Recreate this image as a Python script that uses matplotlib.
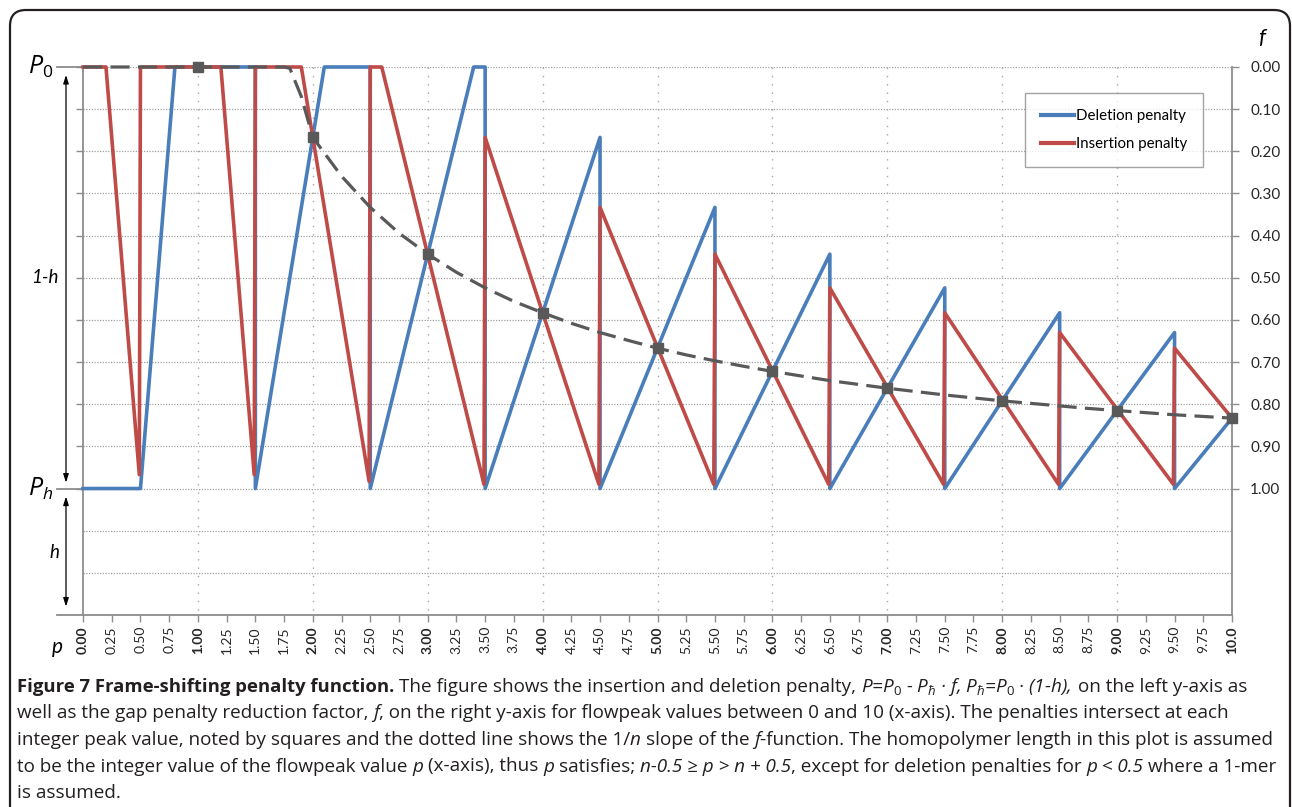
import matplotlib
matplotlib.use('Agg')
import matplotlib.pyplot as plt
from matplotlib.patches import FancyBboxPatch
from matplotlib.transforms import IdentityTransform

# lignes brisees (p en abscisse, f en ordonnee)
deletion_p = [0, 0.5, 0.8, 1.5, 1.5, 2.1, 2.5, 2.5, 3.4, 3.5, 3.5, 4.5, 4.5, 5.5, 5.5,
              6.5, 6.5, 7.5, 7.5, 8.5, 8.5, 9.5, 9.5, 10]
deletion_f = [1, 1, 0, 0, 1, 0, 0, 1, 0, 0, 1, 0.167, 1, 0.333, 1,
              0.444, 1, 0.524, 1, 0.583, 1, 0.630, 1, 0.833]

insertion_p = [0, 0.2, 0.49, 0.5, 1.2, 1.49, 1.5, 1.9, 2.49, 2.5, 2.6, 3.49, 3.5, 4.49, 4.5,
               5.49, 5.5, 6.49, 6.5, 7.49, 7.5, 8.49, 8.5, 9.49, 9.5, 10]
insertion_f = [0, 0, 0.967, 0, 0, 0.967, 0, 0, 0.983, 0, 0, 0.99, 0.167, 0.99, 0.333,
               0.99, 0.444, 0.99, 0.524, 0.99, 0.583, 0.99, 0.630, 0.99, 0.667, 0.833]

# courbe f en pointilles
curve_p = [0, 0.25, 0.5, 0.75, 1, 1.25, 1.5, 1.75, 1.8, 1.9, 2, 2.25, 2.5, 2.75, 3, 3.25, 3.5, 3.75,
           4, 4.25, 4.5, 4.75, 5, 5.25, 5.5, 5.75, 6, 6.25, 6.5, 6.75, 7, 7.25, 7.5, 7.75,
           8, 8.25, 8.5, 8.75, 9, 9.25, 9.5, 9.75, 10]
curve_f = [0, 0, 0, 0, 0, 0, 0, 0, 0.003, 0.07, 0.167, 0.259, 0.333, 0.394, 0.444, 0.487, 0.524, 0.556,
           0.583, 0.608, 0.630, 0.649, 0.667, 0.683, 0.697, 0.710, 0.722, 0.733, 0.744, 0.753,
           0.762, 0.770, 0.778, 0.785, 0.792, 0.798, 0.804, 0.810, 0.815, 0.820, 0.825, 0.829, 0.833]

# intersections (carres)
peak_p = [1, 2, 3, 4, 5, 6, 7, 8, 9, 10]
peak_f = [0, 0.167, 0.444, 0.583, 0.667, 0.722, 0.762, 0.792, 0.815, 0.833]

p_ticks = [i * 0.25 for i in range(41)]
p_labels = ['%.2f' % v for v in p_ticks[:-1]] + ['10.0']
f_ticks = [0, 0.1, 0.2, 0.3, 0.4, 0.5, 0.6, 0.7, 0.8, 0.9, 1.0]
f_labels = ['%.2f' % v for v in f_ticks]
grid_f = [0, 0.1, 0.2, 0.3, 0.4, 0.5, 0.6, 0.7, 0.8, 0.9, 1.0, 1.1, 1.2]
grid_p = [1, 2, 3, 4, 5, 6, 7, 8, 9]

blue = '#4a7ebb'
red = '#be4b48'
dark = '#595959'
axis_grey = '#8c8c8c'

plt.rcParams['font.family'] = ['Lato', 'DejaVu Sans']
plt.rcParams['mathtext.fontset'] = 'custom'
plt.rcParams['mathtext.it'] = 'Open Sans:italic'
plt.rcParams['mathtext.rm'] = 'Open Sans'
plt.rcParams['mathtext.bf'] = 'Open Sans:bold'

W, H = 1292, 807
fig = plt.figure(figsize=(W / 100, H / 100), dpi=100)
ax = fig.add_axes([83 / W, 1 - 615 / H, (1232 - 83) / W, (615 - 67) / H])

ax.hlines(grid_f, 0, 10, colors='#a0a0a0', lw=0.9, linestyles=(0, (1, 1.2)), zorder=1)
ax.vlines(grid_p, 0, 1.3, colors='#a6a6a6', lw=1.0, linestyles=(0, (1, 5)), zorder=1)

ax.plot(deletion_p, deletion_f, color=blue, lw=2.6, zorder=3, clip_on=False, label='Deletion penalty')
ax.plot(insertion_p, insertion_f, color=red, lw=2.6, zorder=4, clip_on=False, label='Insertion penalty')
ax.plot(curve_p, curve_f, color=dark, lw=2.3, ls=(0, (6, 2.6)), zorder=5, clip_on=False)
ax.plot(peak_p, peak_f, 's', color=dark, ms=7, zorder=6, clip_on=False)

ax.set_xlim(0, 10)
ax.set_ylim(1.3, 0)

for s in ['top', 'bottom']:
    ax.spines[s].set_visible(False)
for s in ['left', 'right']:
    ax.spines[s].set_color(axis_grey)
    ax.spines[s].set_linewidth(1.3)
# axe du bas prolonge a gauche, traits P0 et Ph
ax.plot([-0.23, 10], [1.3, 1.3], color=axis_grey, lw=1.3, clip_on=False, zorder=2)
ax.plot([-0.23, 0], [0, 0], color=axis_grey, lw=1.3, clip_on=False, zorder=2)
ax.plot([-0.23, 0], [1, 1], color=axis_grey, lw=1.3, clip_on=False, zorder=2)

ax.set_xticks(p_ticks)
ax.set_xticklabels(p_labels, rotation=90)
for i, lab in enumerate(ax.get_xticklabels()):
    if i % 4 == 0:
        lab.set_fontweight('bold')
ax.tick_params(axis='x', length=5, width=1, color=axis_grey, pad=3, labelsize=10, labelcolor='#262626')

ax.set_yticks(f_ticks)
ax.set_yticklabels(f_labels)
ax.tick_params(axis='y', left=True, right=True, labelleft=False, labelright=True,
               length=5, width=1, color=axis_grey, pad=8, labelsize=11, labelcolor='#262626')

leg = ax.legend(loc='upper left', bbox_to_anchor=((1025 - 83) / 1149, 1 - (93 - 67) / 548),
                frameon=True, fancybox=False, edgecolor=axis_grey, fontsize=10.8,
                handlelength=2.2, handletextpad=0.12, borderpad=1.05, labelspacing=0.95,
                borderaxespad=0)
leg.get_frame().set_linewidth(1.0)
for line in leg.get_lines():
    line.set_linewidth(3.0)

# libelles de gauche
ax.text(-0.37, 0, r'$\mathit{P_0}$', fontsize=18, ha='center', va='center', clip_on=False)
ax.text(-0.33, 0.5, '1-h', fontsize=13.5, style='italic', ha='center', va='center', clip_on=False)
ax.text(-0.37, 1.0, r'$\mathit{P_h}$', fontsize=18, ha='center', va='center', clip_on=False)
ax.text(-0.245, 1.152, 'h', fontsize=13.5, style='italic', ha='center', va='center', clip_on=False)
ax.text(-0.226, 1.377, 'p', fontsize=15, style='italic', ha='center', va='center', clip_on=False)
ax.text(10.26, -0.069, 'f', fontsize=16, style='italic', ha='center', va='center', clip_on=False)

arrow = dict(arrowstyle='<|-|>,head_length=0.5,head_width=0.16', color='black', lw=0.9,
             shrinkA=0, shrinkB=0)
ax.annotate('', xy=(-0.148, 0.019), xytext=(-0.148, 0.986), arrowprops=arrow, annotation_clip=False)
ax.annotate('', xy=(-0.148, 1.019), xytext=(-0.148, 1.280), arrowprops=arrow, annotation_clip=False)

# cadre arrondi
border = FancyBboxPatch((10, -30), 1280, H - 10 + 30, boxstyle='round,pad=0,rounding_size=16',
                        transform=IdentityTransform(), fill=False, edgecolor='#231f20', lw=1.6)
fig.add_artist(border)

# legende de la figure
renderer = fig.canvas.get_renderer()
styles = {
    'bold': dict(family=['Open Sans', 'DejaVu Sans'], weight='bold', size=13.3),
    'reg': dict(family=['Open Sans', 'DejaVu Sans'], size=13.5),
    'it': dict(family=['Open Sans', 'DejaVu Sans'], style='italic', size=13.5),
}


def text_width(txt, kw):
    t1 = fig.text(0, 0, txt + '|', **kw)
    t2 = fig.text(0, 0, '|', **kw)
    w = t1.get_window_extent(renderer).width - t2.get_window_extent(renderer).width
    t1.remove()
    t2.remove()
    return w


caption = [
    [('Figure 7 Frame-shifting penalty function. ', 'bold', 0),
     ('The figure shows the insertion and deletion penalty, ', 'reg', 0),
     (r'$P$=$P_{\mathit{0}}$ - $P_{\hbar}$ · $f$, $P_{\hbar}$=$P_{\mathit{0}}$ · (1-h), ', 'it', 4),
     ('on the left y-axis as', 'reg', 0)],
    [('well as the gap penalty reduction factor, ', 'reg', 0), ('f', 'it', 0),
     (', on the right y-axis for flowpeak values between 0 and 10 (x-axis). The penalties intersect at each', 'reg', 0)],
    [('integer peak value, noted by squares and the dotted line shows the 1/', 'reg', 0), ('n ', 'it', 0),
     ('slope of the ', 'reg', 0), ('f', 'it', 0),
     ('-function. The homopolymer length in this plot is assumed', 'reg', 0)],
    [('to be the integer value of the flowpeak value ', 'reg', 0), ('p ', 'it', 0), ('(x-axis), thus ', 'reg', 0),
     ('p ', 'it', 0), ('satisfies; ', 'reg', 0), ('n-0.5 ≥ p > n + 0.5', 'it', 0),
     (', except for deletion penalties for ', 'reg', 0), ('p < 0.5 ', 'it', 0), ('where a 1-mer', 'reg', 0)],
    [('is assumed.', 'reg', 0)],
]
baselines = [692, 718.5, 745, 771.5, 798]

# taille du texte courant ajustee pour que la ligne 3 finisse au meme endroit
w3 = sum(text_width(t, styles[s]) for t, s, _ in caption[2])
scale = (1273 - 17) / w3
styles['reg']['size'] *= scale
styles['it']['size'] *= scale

for parts, yb in zip(caption, baselines):
    x = 17.0
    for txt, s, extra in parts:
        fig.text(x / W, 1 - yb / H, txt, ha='left', va='baseline', color='#231f20', **styles[s])
        x += text_width(txt, styles[s]) + extra

fig.savefig('out.png', dpi=100)
